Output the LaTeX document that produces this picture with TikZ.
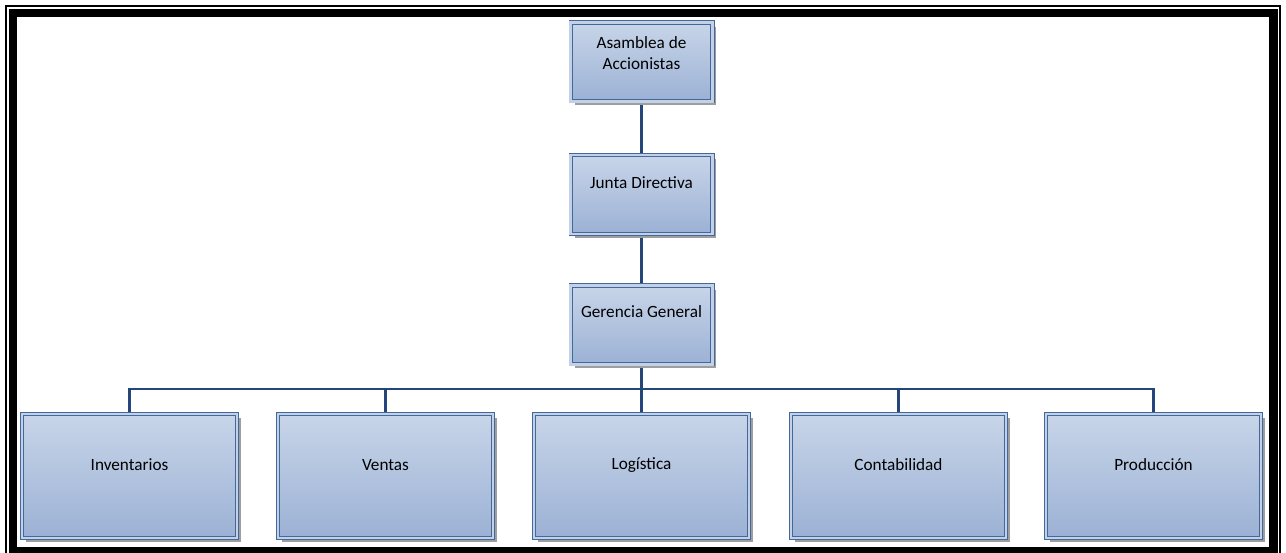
\documentclass[tikz,border=0pt]{standalone}
\usepackage{fontspec}
\setmainfont{Carlito}
\usetikzlibrary{shadows,backgrounds}
\definecolor{boxtop}{HTML}{C8D5E9}
\definecolor{boxbot}{HTML}{9BB1D4}
\definecolor{boxline}{HTML}{45689A}
\definecolor{boxband}{HTML}{C2D1E7}
\definecolor{conn}{HTML}{244679}
\tikzset{
  orgbox/.style={rectangle, inner sep=0pt, top color=boxtop, bottom color=boxbot,
    draw=boxline, line width=0.9pt, double=boxband, double distance=2.4pt,
    drop shadow={shadow xshift=4pt, shadow yshift=-4pt, fill=black!38, opacity=1}},
  topbox/.style={orgbox, minimum width=141.8pt, minimum height=78.8pt},
  lowbox/.style={orgbox, minimum width=214.8pt, minimum height=123.8pt},
  lbl/.style={font=\fontsize{17.2}{20.5}\selectfont, text=black, align=center, inner sep=0pt},
  link/.style={draw=conn, line width=2.3pt}
}
\begin{document}
\begin{tikzpicture}[x=1pt,y=-1pt]
\useasboundingbox (0,0) rectangle (1286,553);
% frame
\draw[line width=1.6pt] (5.8,5.8) rectangle (1280.2,558);
\draw[line width=8.6pt] (13,13) rectangle (1273.5,551.5);
% boxes
\node[topbox] (asam) at (641.5,62) {};
\node[topbox] (junta) at (641.5,194.5) {};
\node[topbox] (ger) at (641.5,325) {};
\node[lowbox] (inv) at (129.5,476) {};
\node[lowbox] (ven) at (385.5,476) {};
\node[lowbox] (log) at (641.5,476) {};
\node[lowbox] (con) at (898.5,476) {};
\node[lowbox] (pro) at (1153.5,476) {};
% labels
\node[lbl] (tasam) at (641.5,53) {Asamblea de\\Accionistas};
\node[lbl] (tjunta) at (641.5,183) {Junta Directiva};
\node[lbl] (tger) at (641.5,312) {Gerencia General};
\node[lbl] (tinv) at (129.5,465) {Inventarios};
\node[lbl] (tven) at (385.5,465) {Ventas};
\node[lbl] (tlog) at (641.5,465) {Logística};
\node[lbl] (tcon) at (898.5,465) {Contabilidad};
\node[lbl] (tpro) at (1153.5,465) {Producción};
\coordinate (bus) at (641.5,389);
\begin{scope}[on background layer]
\fill[white] (0,0) rectangle (1286,553);
\draw[link] (asam.south) -- (junta.north);
\draw[link] (junta.south) -- (ger.north);
\draw[link] (ger.south) -- (bus);
\draw[link] (bus) -- (log.north);
\draw[link] (inv.north) |- (bus);
\draw[link] (ven.north) |- (bus);
\draw[link] (con.north) |- (bus);
\draw[link] (pro.north) |- (bus);
\end{scope}
\end{tikzpicture}
\end{document}
